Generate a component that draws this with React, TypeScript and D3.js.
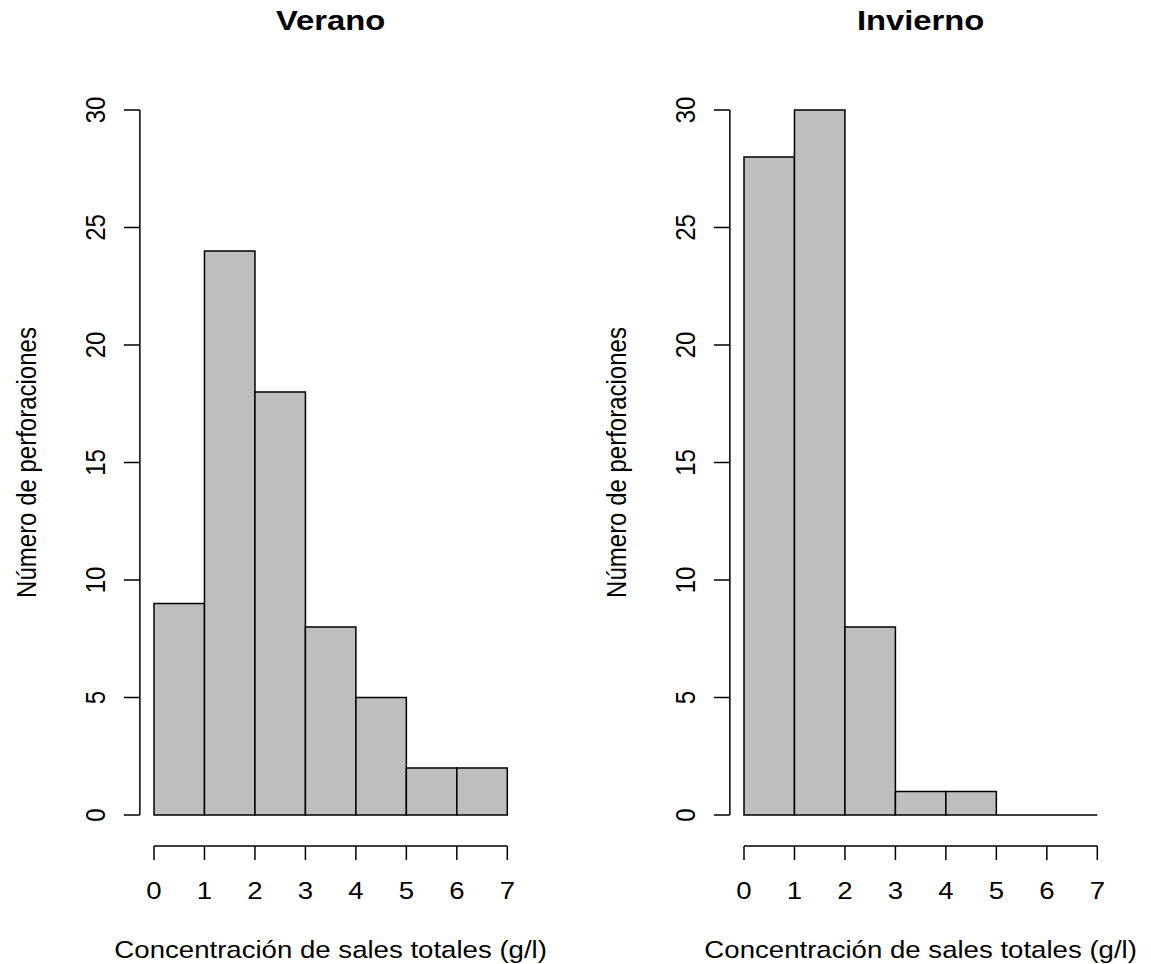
import React from "react";
import * as d3 from "d3";

const binEdges = [0, 1, 2, 3, 4, 5, 6, 7];
const veranoCounts = [9, 24, 18, 8, 5, 2, 2];
const inviernoCounts = [28, 30, 8, 1, 1, 0, 0];
const yTicks = [0, 5, 10, 15, 20, 25, 30];
const xTicks = [0, 1, 2, 3, 4, 5, 6, 7];
const panelTitles = ["Verano", "Invierno"];
const xLabel = "Concentración de sales totales (g/l)";
const yLabel = "Número de perforaciones";

const W = 1151;
const H = 964;
const SX = 1.15;
const FONT = "'Liberation Sans', Arial, Helvetica, sans-serif";

function Panel({ x0, counts, title }: { x0: number; counts: number[]; title: string }) {
  const x = d3.scaleLinear().domain([0, 7]).range([x0, x0 + 353.3]);
  const y = d3.scaleLinear().domain([0, 30]).range([815, 110]);
  const axisX = x(-0.28);
  const cx = x(3.5);
  const st = (tx: number, ty: number) => `translate(${tx},${ty}) scale(${SX},1)`;
  return (
    <g>
      <text transform={st(cx, 30)} textAnchor="middle" fontFamily={FONT} fontWeight="bold" fontSize={28.5} fill="#000">
        {title}
      </text>
      {counts.map((c, i) => {
        const xa = x(binEdges[i]);
        const xb = x(binEdges[i + 1]);
        const ya = y(0);
        const yb = y(c);
        const p = d3.path();
        p.moveTo(xa, ya);
        p.lineTo(xa, yb);
        p.lineTo(xb, yb);
        p.lineTo(xb, ya);
        p.closePath();
        return (
          <path key={i} d={p.toString()} fill="#BEBEBE" stroke="#000" strokeWidth={1.5} strokeLinejoin="miter" />
        );
      })}
      {/* y axis */}
      <line x1={axisX} x2={axisX} y1={y(0)} y2={y(30)} stroke="#000" strokeWidth={1.5} />
      {yTicks.map((t) => (
        <g key={t}>
          <line x1={axisX - 16} x2={axisX} y1={y(t)} y2={y(t)} stroke="#000" strokeWidth={1.5} />
          <text
            transform={`translate(${axisX - 45},${y(t)}) rotate(-90) scale(1,${SX})`}
            textAnchor="middle"
            dy="0.36em"
            fontFamily={FONT}
            fontSize={24}
            fill="#000"
          >
            {t}
          </text>
        </g>
      ))}
      {/* x axis */}
      <line x1={x(0)} x2={x(7)} y1={846} y2={846} stroke="#000" strokeWidth={1.5} />
      {xTicks.map((t) => (
        <g key={t}>
          <line x1={x(t)} x2={x(t)} y1={846} y2={860} stroke="#000" strokeWidth={1.5} />
          <text transform={st(x(t), 899)} textAnchor="middle" fontFamily={FONT} fontSize={24} fill="#000">
            {t}
          </text>
        </g>
      ))}
      <text transform={st(cx, 958)} textAnchor="middle" fontFamily={FONT} fontSize={24} fill="#000">
        {xLabel}
      </text>
      <text
        transform={`translate(${axisX - 104},${y(15)}) rotate(-90) scale(1,${SX})`}
        textAnchor="middle"
        fontFamily={FONT}
        fontSize={24}
        fill="#000"
      >
        {yLabel}
      </text>
    </g>
  );
}

export default function App() {
  return (
    <svg width={W} height={H} style={{ position: "absolute", left: 0, top: 0, background: "#fff" }}>
      <rect x={0} y={0} width={W} height={H} fill="#fff" />
      <Panel x0={154} counts={veranoCounts} title={panelTitles[0]} />
      <Panel x0={744} counts={inviernoCounts} title={panelTitles[1]} />
    </svg>
  );
}
